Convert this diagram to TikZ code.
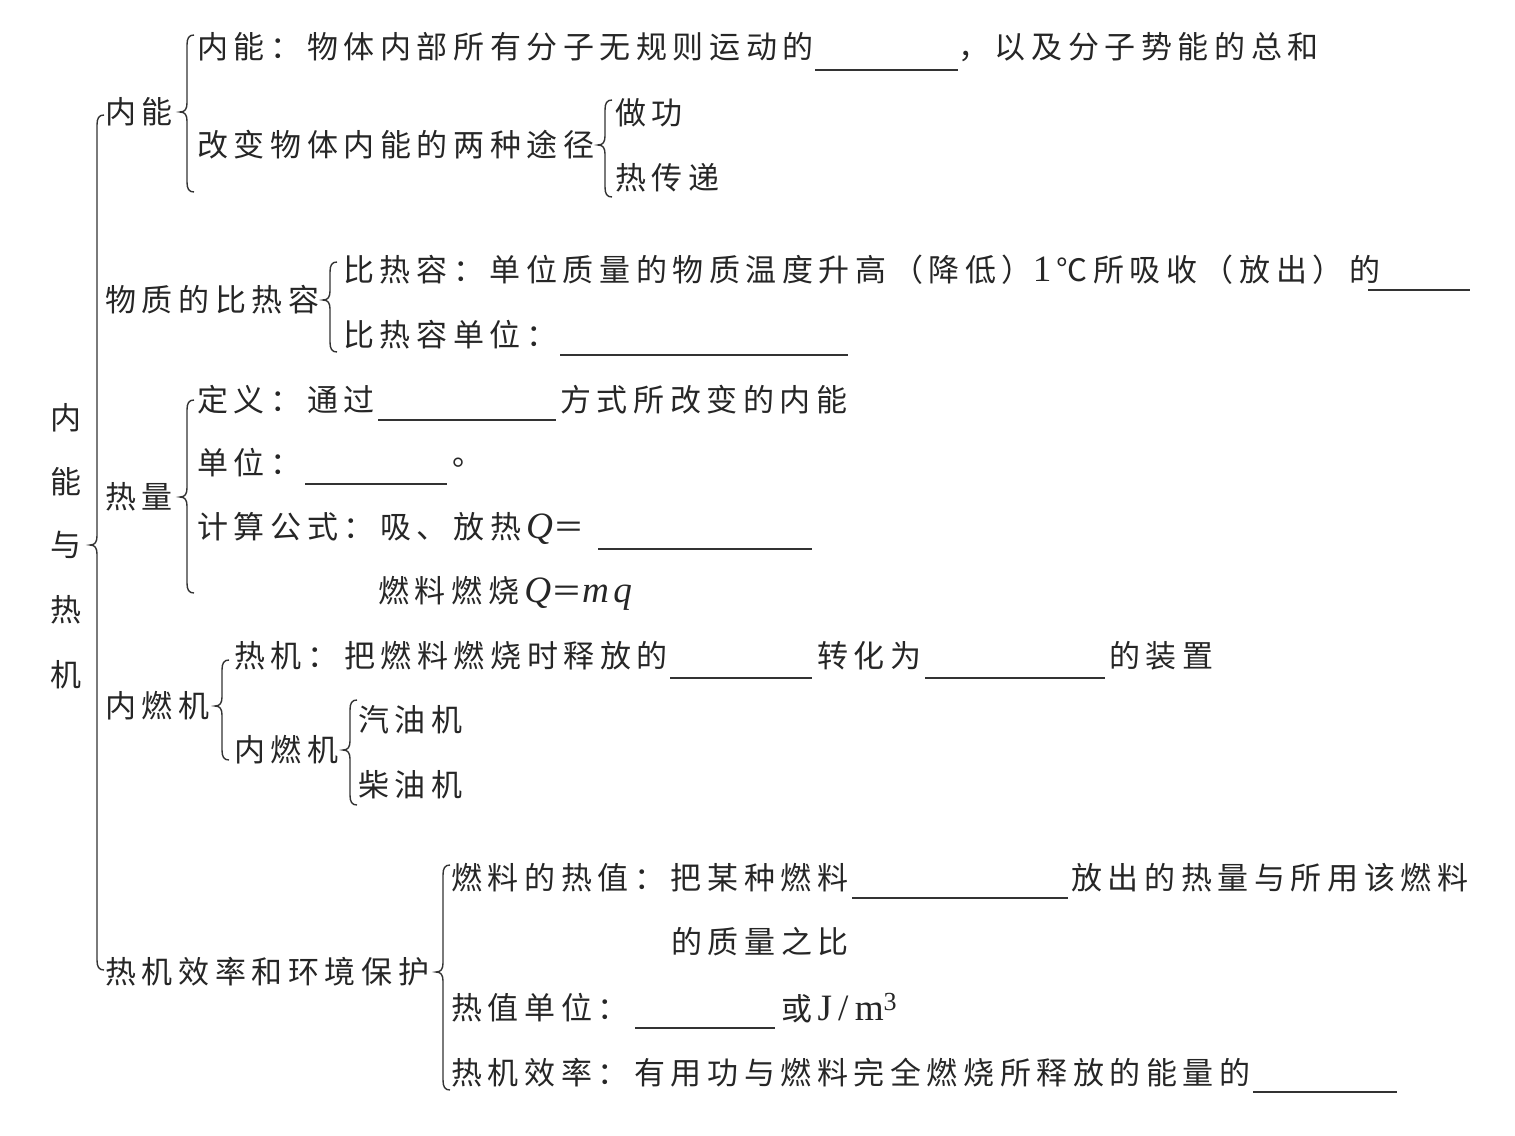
\documentclass[tikz,border=0pt]{standalone}
\usepackage{fontspec}
\setmainfont[LetterSpace=18]{Noto Sans CJK SC}
\newfontfamily\lat[Scale=1.2,LetterSpace=12]{Liberation Serif}
\newcommand\mybrace[4]{%
 \draw[bracestyle] (#1+7,#2) .. controls (#1+2,#2) and (#1,#2+3) .. (#1,#2+10) -- (#1,#3-9) .. controls (#1,#3-3) and (#1-2,#3) .. (#1-7,#3) .. controls (#1-2,#3) and (#1,#3+3) .. (#1,#3+9) -- (#1,#4-10) .. controls (#1,#4-3) and (#1+2,#4) .. (#1+7,#4);}
\newcommand\blankline[3]{\draw[blankstyle] (#1,#3) -- (#2,#3);}
\begin{document}
\begin{tikzpicture}[x=0.5pt,y=-0.5pt,
  txt/.style={anchor=west,inner sep=0pt,text=black!85,font=\fontsize{15.5}{18}\selectfont},
  vtxt/.style={anchor=center,inner sep=0pt,text=black!85,font=\fontsize{15.5}{18}\selectfont},
  bracestyle/.style={draw=black!80,line width=0.7pt},
  blankstyle/.style={draw=black!80,line width=0.6pt}]
\useasboundingbox (0,0) rectangle (1515,1135);
% vertical title
\node[vtxt] (v1) at (66,418) {内};
\node[vtxt] (v2) at (66,482) {能};
\node[vtxt] (v3) at (66,545) {与};
\node[vtxt] (v4) at (66,610) {热};
\node[vtxt] (v5) at (66,675) {机};
\mybrace{97}{115}{545}{970}
% 内能
\node[txt] (a1) at (105,112) {内能};
\mybrace{187}{35}{112}{192}
\node[txt] (a11) at (197,47) {内能：物体内部所有分子无规则运动的};
\blankline{815}{958}{70}
\node[txt] (a11b) at (958,47) {，以及分子势能的总和};
\node[txt] (a12) at (197,145) {改变物体内能的两种途径};
\mybrace{605}{100}{145}{197}
\node[txt] (a121) at (615,113) {做功};
\node[txt] (a122) at (615,178) {热传递};
% 比热容
\node[txt] (a2) at (105,300) {物质的比热容};
\mybrace{330}{262}{300}{352}
\node[txt] (a21) at (343,270) {比热容：单位质量的物质温度升高（降低）{\lat 1}\,℃所吸收（放出）的};
\blankline{1368}{1470}{290}
\node[txt] (a22) at (343,335) {比热容单位：};
\blankline{560}{848}{355}
% 热量
\node[txt] (a3) at (105,497) {热量};
\mybrace{187}{400}{497}{593}
\node[txt] (a31) at (197,400) {定义：通过};
\blankline{378}{556}{420}
\node[txt] (a31b) at (560,400) {方式所改变的内能};
\node[txt] (a32) at (197,463) {单位：};
\blankline{305}{447}{484}
\node[txt] (a32b) at (452,463) {。};
\node[txt] (a33) at (197,528) {计算公式：吸、放热\,{\lat\itshape Q}＝};
\blankline{598}{812}{549}
\node[txt] (a34) at (378,593) {燃料燃烧\,{\lat\itshape Q}＝{\lat\itshape mq}};
% 内燃机
\node[txt] (a4) at (105,706) {内燃机};
\mybrace{222}{660}{706}{760}
\node[txt] (a41) at (234,656) {热机：把燃料燃烧时释放的};
\blankline{670}{812}{678}
\node[txt] (a41b) at (817,656) {转化为};
\blankline{925}{1105}{678}
\node[txt] (a41c) at (1109,656) {的装置};
\node[txt] (a42) at (234,750) {内燃机};
\mybrace{350}{700}{750}{805}
\node[txt] (a421) at (358,720) {汽油机};
\node[txt] (a422) at (358,785) {柴油机};
% 热机效率
\node[txt] (a5) at (105,972) {热机效率和环境保护};
\mybrace{443}{865}{972}{1090}
\node[txt] (a51) at (451,878) {燃料的热值：把某种燃料};
\blankline{852}{1068}{898}
\node[txt] (a51b) at (1071,878) {放出的热量与所用该燃料};
\node[txt] (a52) at (671,942) {的质量之比};
\node[txt] (a53) at (451,1008) {热值单位：};
\blankline{635}{775}{1028}
\node[txt] (a53b) at (781,1008) {或\,{\lat J\,/\,m\textsuperscript{3}}};
\node[txt] (a54) at (451,1073) {热机效率：有用功与燃料完全燃烧所释放的能量的};
\blankline{1253}{1397}{1092}
\end{tikzpicture}
\end{document}
